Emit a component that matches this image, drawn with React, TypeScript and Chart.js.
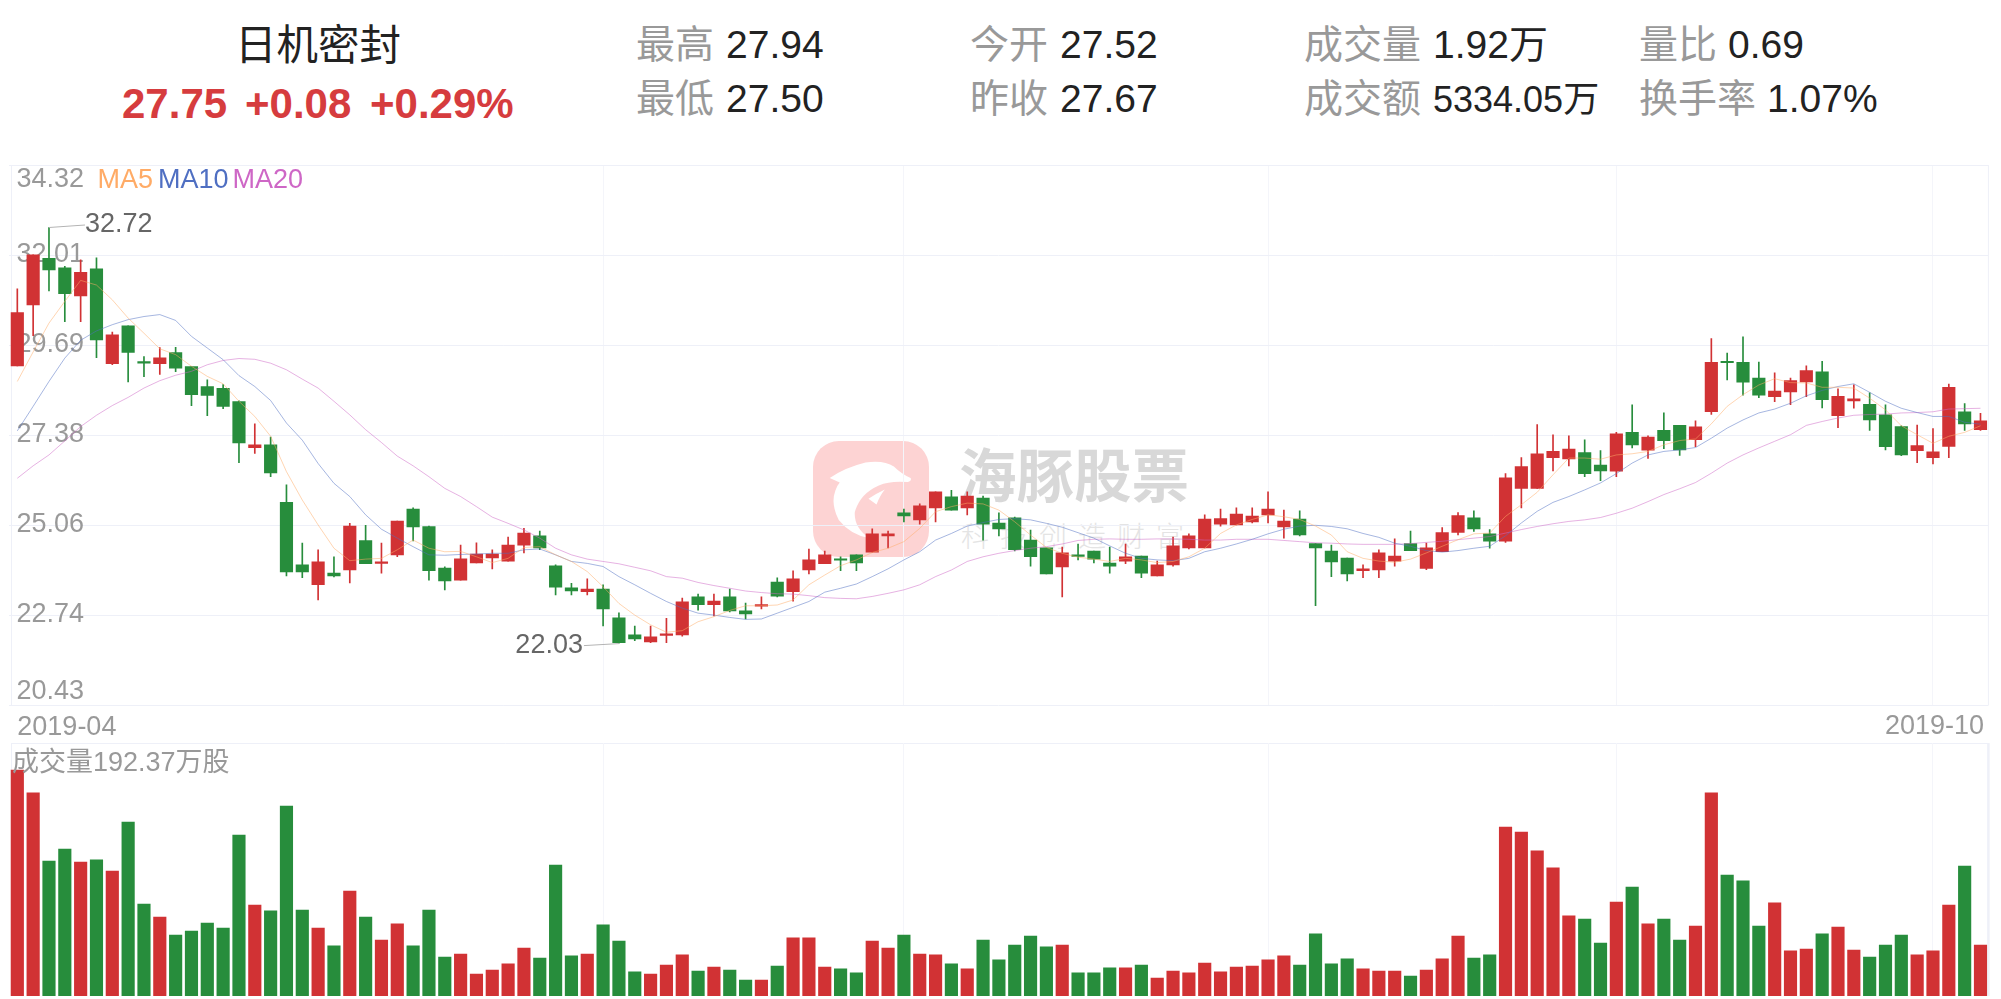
import React, { useEffect, useRef } from "react";
import { Chart, registerables } from "chart.js";

Chart.register(...registerables);

const opens = [29.16,30.73,31.93,31.68,30.96,31.66,29.22,30.19,29.24,29.22,
29.50,29.14,28.63,28.58,28.24,27.06,27.13,25.65,24.04,23.53,
23.83,23.91,24.67,24.08,24.30,25.48,25.03,23.96,23.65,24.09,
24.22,24.14,24.55,24.79,24.02,23.45,23.35,23.42,22.68,22.24,
22.06,22.23,22.24,23.22,23.02,23.22,22.86,22.98,23.60,23.35,
23.91,24.07,24.17,24.30,24.37,24.79,25.38,25.20,25.51,25.79,
25.51,25.76,25.12,25.25,24.68,24.48,23.99,24.27,24.40,24.09,
24.14,24.27,23.76,24.04,24.48,24.48,25.09,25.07,25.15,25.33,
25.02,25.22,24.59,24.40,24.22,23.89,23.91,24.14,24.59,23.95,
24.38,24.88,25.25,24.84,24.65,26.01,26.01,26.80,26.77,26.93,
26.61,26.45,27.45,26.99,27.50,27.63,27.26,27.98,29.25,29.25,
28.85,28.37,28.49,28.75,29.01,27.88,28.26,28.17,27.90,27.60,
26.98,26.80,27.09,27.98,27.52];

const closes = [30.53,32.02,31.63,31.02,31.57,29.83,29.96,29.51,29.23,29.37,
29.10,28.42,28.40,28.12,27.18,27.13,26.41,23.86,23.86,24.12,
23.76,25.04,24.07,24.09,25.17,25.02,23.89,23.63,24.20,24.32,
24.32,24.55,24.86,24.48,23.47,23.37,23.42,22.91,22.04,22.14,
22.19,22.24,23.09,23.02,23.11,22.86,22.78,22.99,23.24,23.68,
24.17,24.30,24.16,24.09,24.84,24.84,25.30,25.56,25.92,25.45,
25.81,25.09,24.97,24.43,24.25,23.81,24.35,24.26,24.19,24.01,
24.25,23.83,24.04,24.53,24.79,25.22,25.23,25.35,25.30,25.48,
25.17,24.81,24.48,24.12,23.81,23.94,24.35,24.27,24.41,24.48,
24.87,25.31,24.97,24.65,26.28,26.57,26.90,26.96,27.02,26.39,
26.46,27.41,27.13,27.33,27.24,27.00,27.59,29.25,29.24,28.74,
28.41,28.51,28.78,29.04,28.29,28.38,28.31,27.77,27.08,26.87,
27.11,26.95,28.61,27.67,27.75];

const highs = [31.14,32.02,32.72,31.72,31.89,31.94,30.03,30.19,29.40,29.63,
29.64,29.14,28.80,28.68,28.26,27.67,27.33,26.10,24.60,24.43,
24.25,25.11,25.06,24.60,25.17,25.51,25.04,23.99,24.55,24.61,
24.43,24.76,24.98,24.91,24.04,23.57,23.68,23.53,22.81,22.47,
22.47,22.67,23.19,23.29,23.29,23.42,23.06,23.22,23.71,23.89,
24.45,24.40,24.25,24.30,24.97,24.91,25.48,25.61,25.92,25.96,
25.92,25.81,25.38,25.27,24.94,24.48,24.50,24.58,24.40,24.50,
24.58,24.27,24.14,24.76,24.84,25.33,25.48,25.51,25.51,25.92,
25.45,25.43,24.59,24.55,24.22,24.04,24.43,24.71,24.91,24.60,
25.00,25.39,25.43,24.95,26.39,26.80,27.65,27.39,27.36,27.26,
26.98,27.45,28.16,27.36,27.95,27.63,27.75,29.86,29.49,29.91,
29.26,28.98,28.85,29.16,29.28,28.57,28.67,28.47,28.16,27.62,
27.64,27.55,28.69,28.19,27.94];

const lows = [29.16,29.94,31.09,30.30,30.30,29.37,29.19,28.75,28.88,28.94,
29.01,28.14,27.88,28.06,26.67,26.91,26.31,23.76,23.71,23.14,
23.73,23.58,24.07,23.83,24.25,24.66,23.65,23.40,23.65,24.09,
23.94,24.14,24.35,24.43,23.27,23.27,23.27,22.47,22.03,22.09,
22.04,22.04,22.21,22.88,22.73,22.83,22.65,22.91,23.22,23.11,
23.81,24.07,23.89,23.89,24.37,24.48,25.15,25.09,25.15,25.45,
25.33,24.68,24.79,24.40,24.01,23.81,23.22,24.17,24.09,23.83,
24.07,23.71,23.76,24.01,24.45,24.48,25.04,25.07,25.12,25.12,
24.73,24.79,22.99,23.74,23.63,23.71,23.71,24.01,24.41,23.92,
24.38,24.81,24.90,24.47,24.62,25.51,26.01,26.46,26.59,26.31,
26.21,26.31,27.05,26.78,27.03,26.86,27.08,27.91,28.80,28.41,
28.34,28.24,28.16,28.37,28.08,27.57,28.07,27.50,27.00,26.85,
26.67,26.64,26.80,27.50,27.50];

const ma5 = [28.76,29.52,30.26,30.82,31.36,31.24,30.86,30.39,30.00,29.60,
29.45,29.15,28.89,28.70,28.25,27.86,27.35,26.44,25.71,25.07,
24.47,24.15,24.19,24.21,24.43,24.68,24.47,24.38,24.39,24.25,
24.10,24.21,24.49,24.51,24.30,24.13,23.87,23.48,23.05,22.75,
22.50,22.31,22.35,22.58,22.71,22.87,22.99,22.99,23.01,23.14,
23.53,23.78,24.02,24.17,24.36,24.47,24.64,24.98,25.41,25.54,
25.63,25.61,25.45,25.15,24.81,24.49,24.34,24.24,24.19,24.13,
24.21,24.17,24.10,24.13,24.25,24.47,24.85,25.07,25.21,25.33,
25.28,25.21,25.04,24.81,24.38,24.21,24.14,24.11,24.19,24.35,
24.52,24.69,24.84,24.86,25.29,25.59,25.91,26.36,26.79,26.79,
26.76,26.87,26.90,26.96,27.13,27.24,27.28,27.67,28.12,28.42,
28.67,28.83,28.73,28.72,28.61,28.61,28.59,28.33,28.03,27.62,
27.39,27.17,27.35,27.45,27.62];

const ma10 = [27.49,28.12,28.76,29.36,29.82,30.06,30.22,30.35,30.43,30.48,
30.33,29.92,29.62,29.32,28.91,28.63,28.27,27.69,27.25,26.65,
26.14,25.80,25.33,24.96,24.73,24.51,24.30,24.29,24.31,24.32,
24.34,24.34,24.43,24.45,24.30,24.13,24.08,24.00,23.74,23.53,
23.31,23.10,22.93,22.80,22.75,22.69,22.64,22.65,22.80,22.95,
23.10,23.34,23.44,23.55,23.74,23.94,24.17,24.38,24.68,24.85,
25.04,25.13,25.21,25.23,25.20,25.11,25.01,24.87,24.73,24.53,
24.34,24.21,24.17,24.15,24.21,24.38,24.47,24.58,24.70,24.84,
24.96,25.04,25.06,25.03,24.97,24.85,24.75,24.60,24.52,24.41,
24.37,24.41,24.47,24.52,24.79,25.12,25.42,25.65,25.80,25.97,
26.15,26.39,26.66,26.87,26.96,27.00,27.06,27.30,27.56,27.77,
27.95,28.05,28.20,28.39,28.53,28.63,28.70,28.48,28.25,28.07,
27.96,27.86,27.86,27.71,27.66];

const ma20 = [26.27,26.59,26.87,27.23,27.60,27.89,28.14,28.35,28.59,28.78,
28.92,29.02,29.19,29.30,29.35,29.33,29.23,29.06,28.82,28.59,
28.25,27.90,27.52,27.19,26.84,26.59,26.31,26.01,25.80,25.54,
25.27,25.11,24.94,24.73,24.47,24.30,24.19,24.13,24.07,23.98,
23.89,23.74,23.70,23.59,23.51,23.44,23.37,23.33,23.30,23.29,
23.25,23.20,23.18,23.17,23.23,23.31,23.40,23.53,23.74,23.91,
24.13,24.25,24.34,24.41,24.47,24.51,24.58,24.67,24.70,24.71,
24.70,24.70,24.71,24.71,24.70,24.68,24.68,24.70,24.70,24.70,
24.67,24.64,24.61,24.60,24.58,24.57,24.57,24.57,24.59,24.62,
24.65,24.69,24.73,24.77,24.86,24.95,25.03,25.10,25.16,25.20,
25.26,25.37,25.50,25.67,25.85,26.00,26.16,26.40,26.66,26.87,
27.05,27.22,27.39,27.63,27.73,27.82,27.89,27.91,27.92,27.95,
27.96,27.98,28.05,28.06,28.07];

const volumes = [852,766,509,554,505,513,471,656,347,298,
230,245,275,256,607,343,321,716,324,256,
189,396,298,211,272,189,324,147,158,83,
98,121,181,143,494,151,158,268,207,91,
83,117,155,94,109,98,60,60,113,219,
219,109,102,87,207,181,230,158,155,121,
102,211,136,192,226,185,192,87,87,106,
106,117,68,94,87,124,91,109,113,136,
151,117,234,121,140,102,94,94,75,98,
140,226,143,155,637,618,547,483,302,290,
200,354,411,272,290,211,264,766,456,434,
264,351,170,177,234,260,173,147,192,230,
155,170,343,490,192];

const priceTicks = [34.32, 32.01, 29.69, 27.38, 25.06, 22.74, 20.43];
const monthStartIndexes = [37, 56, 79, 101, 121];
const firstDate = "2019-04";
const lastDate = "2019-10";
const categories = opens.map((_, i) => (i === 0 ? firstDate : ""));

const RED = "#d13234";
const GREEN = "#278d3c";
const GRID = "#eef0f8";
const FONT = '"Liberation Sans","Noto Sans CJK SC",sans-serif';
const candleColors = opens.map((o, i) => (closes[i] >= o ? RED : GREEN));

const PAD_LEFT = 9.4;
const PAD_RIGHT = 12.6;

function tickAxis(ticks: number[], labelOffset: number, grid: boolean, hideOuter: boolean) {
  return {
    type: "linear",
    position: "left",
    min: priceTicks[priceTicks.length - 1],
    max: priceTicks[0],
    afterBuildTicks: (axis: any) => {
      axis.ticks = ticks.map((value) => ({ value }));
    },
    afterFit: (axis: any) => {
      axis.width = 0;
    },
    border: { display: false },
    grid: { display: grid, drawTicks: false, color: GRID },
    ticks: {
      mirror: true,
      padding: 7,
      labelOffset,
      autoSkip: false,
      color: "#999999",
      font: { family: FONT, size: 27 },
      // the two outer labels sit inside the plot, on their own axes with their own offset
      callback: (v: any) =>
        hideOuter && (v === priceTicks[0] || v === priceTicks[priceTicks.length - 1])
          ? ""
          : Number(v).toFixed(2),
    },
  };
}

const xGrid = {
  offset: false,
  drawTicks: false,
  color: (ctx: any) => (monthStartIndexes.includes(ctx.index) ? "#f4f5fa" : "rgba(0,0,0,0)"),
};

function frame(rightWidth: number) {
  return {
    id: "frame",
    beforeDraw(chart: any) {
      const { ctx, chartArea: a } = chart;
      ctx.save();
      ctx.strokeStyle = GRID;
      ctx.lineWidth = 1;
      ctx.beginPath();
      ctx.moveTo(11.5, a.top);
      ctx.lineTo(11.5, a.bottom);
      ctx.moveTo(11.5, Math.round(a.top) + 0.5);
      ctx.lineTo(a.right, Math.round(a.top) + 0.5);
      ctx.stroke();
      ctx.lineWidth = rightWidth;
      ctx.beginPath();
      ctx.moveTo(a.right, a.top);
      ctx.lineTo(a.right, a.bottom);
      ctx.stroke();
      ctx.restore();
    },
  };
}

const extremes = {
  id: "extremes",
  afterDatasetsDraw(chart: any) {
    const { ctx, scales } = chart;
    const hi = highs.indexOf(Math.max(...highs));
    const lo = lows.indexOf(Math.min(...lows));
    const y = scales.y;
    const x = scales.x;
    ctx.save();
    ctx.font = `27px ${FONT}`;
    ctx.textBaseline = "middle";
    ctx.strokeStyle = "#b4b4b4";
    ctx.lineWidth = 1;
    ctx.fillStyle = "#666666";

    const hx = x.getPixelForValue(hi);
    const hy = y.getPixelForValue(highs[hi]);
    ctx.beginPath();
    ctx.moveTo(hx, hy);
    ctx.lineTo(hx + 36, hy - 2.5);
    ctx.stroke();
    ctx.textAlign = "left";
    ctx.fillText(highs[hi].toFixed(2), hx + 36, hy - 3);

    const lx = x.getPixelForValue(lo);
    const ly = y.getPixelForValue(lows[lo]);
    ctx.beginPath();
    ctx.moveTo(lx, ly + 0.5);
    ctx.lineTo(lx - 35, ly + 2.5);
    ctx.stroke();
    ctx.textAlign = "right";
    ctx.fillText(lows[lo].toFixed(2), lx - 36, ly + 2);
    ctx.restore();
  },
};

function line(label: string, data: number[], color: string) {
  return {
    type: "line",
    label,
    data,
    borderColor: color,
    borderWidth: 0.6,
    pointRadius: 0,
    tension: 0,
    order: 0,
  };
}

function Txt({ x, y, size, color, bold, children }: any) {
  return (
    <div
      style={{
        position: "absolute",
        left: x,
        top: y,
        transform: "translateY(-50%)",
        fontFamily: FONT,
        fontSize: size,
        lineHeight: 1.2,
        fontWeight: bold ? 700 : 400,
        color,
        whiteSpace: "nowrap",
      }}
    >
      {children}
    </div>
  );
}

export default function App() {
  const priceRef = useRef<HTMLCanvasElement>(null);
  const volRef = useRef<HTMLCanvasElement>(null);

  useEffect(() => {
    const priceChart = new Chart(priceRef.current as any, {
      type: "bar",
      data: {
        labels: categories,
        datasets: [
          line("MA5", ma5, "rgba(255,171,102,0.85)"),
          line("MA10", ma10, "rgba(79,111,194,0.85)"),
          line("MA20", ma20, "rgba(206,103,198,0.85)"),
          {
            label: "body",
            data: opens.map((o, i) => [o, closes[i]]),
            backgroundColor: candleColors,
            barThickness: 12.5,
            minBarLength: 1.5,
            grouped: false,
            order: 1,
          },
          {
            label: "wick",
            data: lows.map((l, i) => [l, highs[i]]),
            backgroundColor: candleColors,
            barThickness: 1,
            grouped: false,
            order: 2,
          },
        ] as any,
      },
      options: {
        animation: false,
        responsive: false,
        events: [],
        layout: { padding: { left: PAD_LEFT, right: PAD_RIGHT, top: 165.3, bottom: 0 } },
        plugins: { legend: { display: false }, tooltip: { enabled: false } },
        scales: {
          x: {
            type: "category",
            offset: true,
            afterFit: (axis: any) => {
              axis.height = 34.7;
            },
            border: { display: false },
            grid: xGrid,
            ticks: {
              autoSkip: false,
              maxRotation: 0,
              minRotation: 0,
              align: "inner",
              padding: 6,
              color: "#999999",
              font: { family: FONT, size: 27 },
            },
          },
          y: tickAxis(priceTicks, -1, true, true) as any,
          yFirst: tickAxis(priceTicks.slice(0, 1), 14, false, false) as any,
          yLast: tickAxis(priceTicks.slice(-1), -14, false, false) as any,
        },
      } as any,
      plugins: [frame(1), extremes],
    } as any);

    const volumeChart = new Chart(volRef.current as any, {
      type: "bar",
      data: {
        labels: categories,
        datasets: [
          {
            label: "成交量",
            data: volumes,
            backgroundColor: candleColors,
            barThickness: 12.5,
          },
        ],
      },
      options: {
        animation: false,
        responsive: false,
        events: [],
        layout: { padding: { left: PAD_LEFT, right: PAD_RIGHT, top: 8, bottom: 3 } },
        plugins: { legend: { display: false }, tooltip: { enabled: false } },
        scales: {
          x: {
            type: "category",
            offset: true,
            border: { display: false },
            grid: xGrid,
            ticks: { display: false, autoSkip: false },
          },
          y: { display: false, min: 0, max: 954 },
        },
      } as any,
      plugins: [frame(2.5)],
    } as any);

    return () => {
      priceChart.destroy();
      volumeChart.destroy();
    };
  }, []);

  const dark = "#222222";
  const gray = "#999999";
  const red = "#d63c3e";
  return (
    <div
      style={{
        position: "absolute",
        left: 0,
        top: 0,
        width: 2001,
        height: 999,
        overflow: "hidden",
        background: "#ffffff",
      }}
    >
      <Txt x={235} y={46} size={41.5} color={dark}>日机密封</Txt>
      <Txt x={122} y={104} size={42} color={red} bold>27.75</Txt>
      <Txt x={245} y={104} size={42} color={red} bold>+0.08</Txt>
      <Txt x={370} y={104} size={42} color={red} bold>+0.29%</Txt>

      <Txt x={636} y={45} size={39} color={gray}>最高</Txt>
      <Txt x={726} y={45} size={39} color={dark}>27.94</Txt>
      <Txt x={636} y={99} size={39} color={gray}>最低</Txt>
      <Txt x={726} y={99} size={39} color={dark}>27.50</Txt>

      <Txt x={970} y={45} size={39} color={gray}>今开</Txt>
      <Txt x={1060} y={45} size={39} color={dark}>27.52</Txt>
      <Txt x={970} y={99} size={39} color={gray}>昨收</Txt>
      <Txt x={1060} y={99} size={39} color={dark}>27.67</Txt>

      <Txt x={1304} y={45} size={39} color={gray}>成交量</Txt>
      <Txt x={1433} y={45} size={39} color={dark}>1.92万</Txt>
      <Txt x={1304} y={99} size={39} color={gray}>成交额</Txt>
      <Txt x={1433} y={100} size={36} color={dark}>5334.05万</Txt>

      <Txt x={1639} y={45} size={39} color={gray}>量比</Txt>
      <Txt x={1728} y={45} size={39} color={dark}>0.69</Txt>
      <Txt x={1639} y={99} size={39} color={gray}>换手率</Txt>
      <Txt x={1767} y={99} size={39} color={dark}>1.07%</Txt>

      {/* watermark sits under the transparent chart canvases */}
      <div
        style={{
          position: "absolute",
          left: 812.5,
          top: 440.7,
          width: 116,
          height: 116,
          borderRadius: 26,
          background: "#fdd3d3",
        }}
      >
        <svg width={116} height={116} viewBox="38 32 347 347" style={{ display: "block" }}>
          <path
            fill="#ffffff"
            d="M88 143 Q130 112 195 96 Q250 88 280 108 Q300 128 330 143 Q334 152 322 155 Q270 150 235 165 Q178 190 163 245 Q160 290 205 322 Q150 312 115 268 Q90 220 105 180 Q110 165 118 156 Z"
          />
          <path fill="#ffffff" d="M204 205 Q225 190 253 177 Q238 195 228 222 Z" />
        </svg>
      </div>
      <div
        style={{
          position: "absolute",
          left: 959,
          top: 438,
          fontFamily: '"Noto Sans CJK SC",sans-serif',
          fontWeight: 700,
          fontSize: 57.5,
          lineHeight: "68px",
          color: "#d8d8d8",
          whiteSpace: "nowrap",
        }}
      >
        海豚股票
      </div>
      <div
        style={{
          position: "absolute",
          left: 961,
          top: 516,
          fontFamily: '"Noto Sans CJK SC",sans-serif',
          fontWeight: 300,
          fontSize: 28,
          letterSpacing: 11,
          lineHeight: "38px",
          color: "#e4e4e4",
          whiteSpace: "nowrap",
        }}
      >
        科技创造财富
      </div>

      <canvas
        ref={priceRef}
        width={2001}
        height={740}
        style={{ position: "absolute", left: 0, top: 0, width: 2001, height: 740 }}
      />
      <canvas
        ref={volRef}
        width={2001}
        height={264}
        style={{ position: "absolute", left: 0, top: 735, width: 2001, height: 264 }}
      />

      <Txt x={97.5} y={179} size={27} color="#ffab66">MA5</Txt>
      <Txt x={158} y={179} size={27} color="#4f6fc2">MA10</Txt>
      <Txt x={232.5} y={179} size={27} color="#ce67c6">MA20</Txt>
      <Txt x={1885} y={725} size={27} color="#999999">{lastDate}</Txt>
      <Txt x={12} y={762} size={27} color="#999999">成交量192.37万股</Txt>
    </div>
  );
}
